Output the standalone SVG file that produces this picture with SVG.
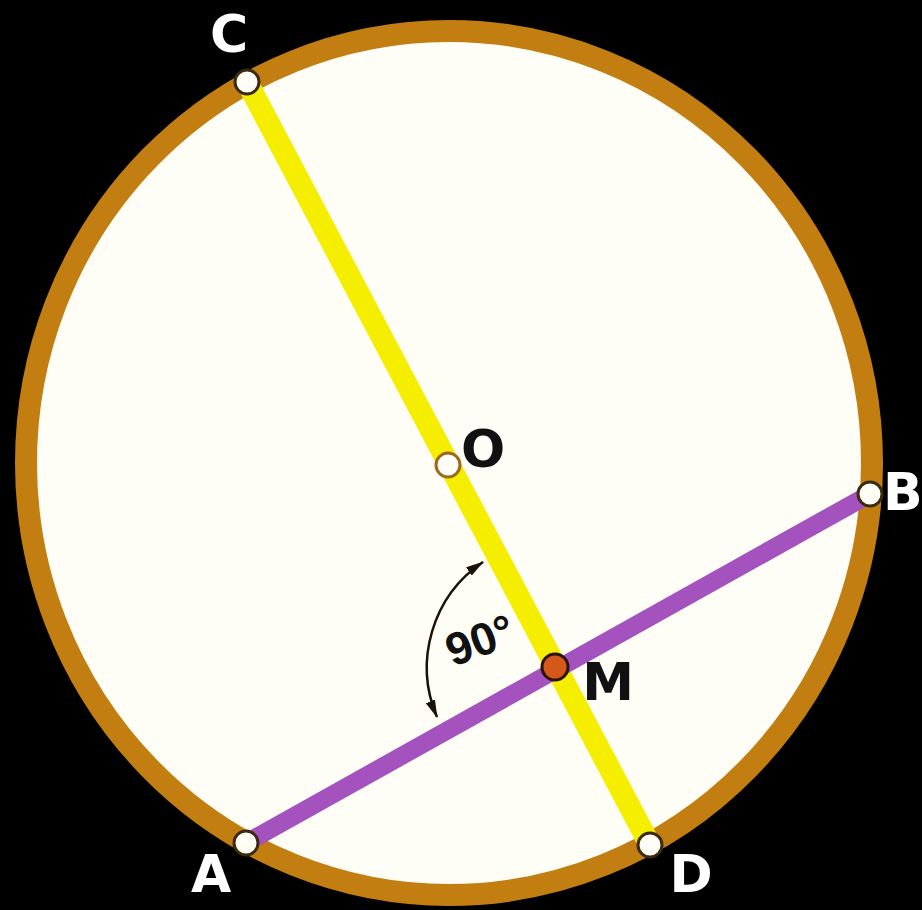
<svg xmlns="http://www.w3.org/2000/svg" width="922" height="910" viewBox="0 0 922 910">
<style>
.lbl{font-family:"DejaVu Sans","Liberation Sans",sans-serif;font-weight:bold;font-size:52px;}
.wl{fill:#ffffff;}
.bl{fill:#111111;}
.pt{fill:#fffdf5;stroke:#3a2a10;stroke-width:3;}
</style>
<defs>
<marker id="ah" viewBox="0 0 18 10" refX="17" refY="5" markerWidth="18" markerHeight="10" markerUnits="userSpaceOnUse" orient="auto-start-reverse">
<path d="M0,0 L18,5 L0,10 z" fill="#1a1208"/>
</marker>
</defs>
<rect x="0" y="0" width="922" height="910" fill="#000000"/>
<g id="circle">
<ellipse cx="449" cy="463" rx="423" ry="432" fill="#fffef6" stroke="#c27e10" stroke-width="22"/>
</g>
<g id="connectors">
<line x1="247" y1="82" x2="650" y2="845" stroke="#f6ee00" stroke-width="22"/>
<line x1="246" y1="843" x2="870" y2="494" stroke="#a452bd" stroke-width="18"/>
<path d="M483,562 A127,127 0 0 0 437,717" fill="none" stroke="#1a1208" stroke-width="2.5" marker-start="url(#ah)" marker-end="url(#ah)"/>
</g>
<g id="node-C">
<circle class="pt" cx="247" cy="82" r="12"/>
<text class="lbl wl" x="229" y="52" text-anchor="middle">C</text>
</g>
<g id="node-O">
<circle cx="448" cy="465" r="12" fill="#fffdf5" stroke="#9a6a20" stroke-width="3"/>
<text class="lbl bl" x="483" y="467" text-anchor="middle" font-size="48">O</text>
</g>
<g id="node-M">
<circle cx="555" cy="667" r="13" fill="#d4581a" stroke="#2a1408" stroke-width="3"/>
<text class="lbl bl" x="608" y="700" text-anchor="middle">M</text>
</g>
<g id="node-A">
<circle class="pt" cx="246" cy="843" r="12"/>
<text class="lbl wl" x="211" y="892" text-anchor="middle">A</text>
</g>
<g id="node-D">
<circle class="pt" cx="650" cy="845" r="12"/>
<text class="lbl wl" x="691" y="892" text-anchor="middle">D</text>
</g>
<g id="node-B">
<circle class="pt" cx="870" cy="494" r="12" stroke="none"/>
<text class="lbl wl" x="883" y="510" font-size="44">B</text>
</g>
<g id="angle-label">
<text x="480" y="656" text-anchor="middle" transform="rotate(-20 480 640)" style="font-family:'Liberation Sans','DejaVu Sans',sans-serif;font-weight:bold;font-size:46px;fill:#111111">90°</text>
</g>
</svg>
